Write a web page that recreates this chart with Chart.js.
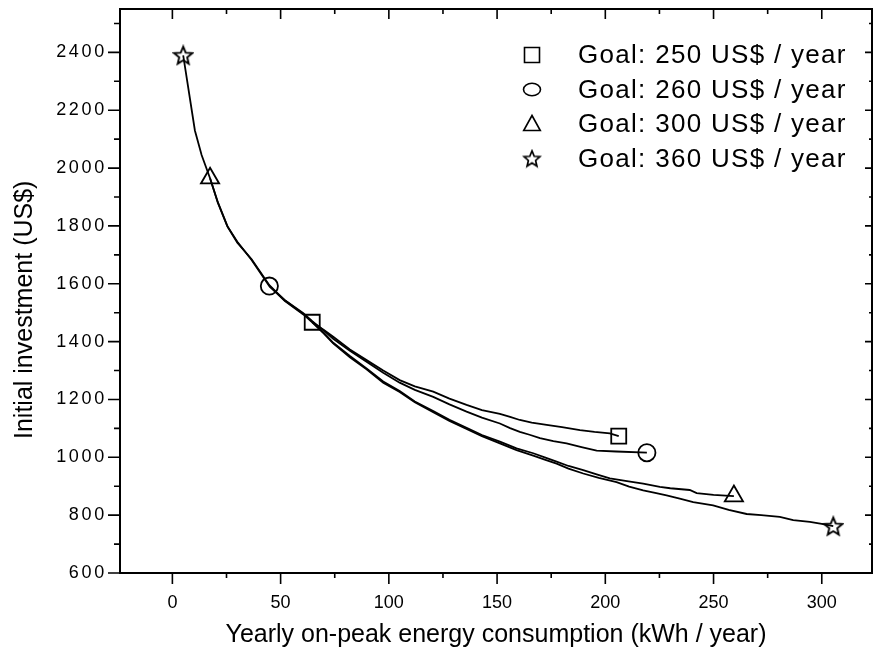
<!DOCTYPE html>
<html>
<head>
<meta charset="utf-8">
<script src="https://cdn.jsdelivr.net/npm/chart.js@4.4.0/dist/chart.umd.min.js"></script>
<style>
html,body{margin:0;padding:0;background:#fff;}
#wrap{width:874px;height:655px;position:relative;}
</style>
</head>
<body>
<div id="wrap"><canvas id="c"></canvas></div>
<script>
// ---------------- data ----------------
const seriesLabels = ['Goal: 250 US$ / year', 'Goal: 260 US$ / year', 'Goal: 300 US$ / year', 'Goal: 360 US$ / year'];
const xTitle = 'Yearly on-peak energy consumption (kWh / year)';
const yTitle = 'Initial investment (US$)';

const xRange = [-24.2, 323.2];
const yRange = [600, 2550];
const xTicks = [0, 50, 100, 150, 200, 250, 300];
const xMinorTicks = [0, 25, 50, 75, 100, 125, 150, 175, 200, 225, 250, 275, 300];
const yTicks = [600, 800, 1000, 1200, 1400, 1600, 1800, 2000, 2200, 2400];
const yMinorTicks = [600, 700, 800, 900, 1000, 1100, 1200, 1300, 1400, 1500, 1600, 1700, 1800, 1900, 2000, 2100, 2200, 2300, 2400, 2500];

const goal250X = [64.6, 70, 74.3, 82, 89.7, 97.4, 105, 112, 120.5, 128, 135.9, 143, 151.3, 156, 160.5, 166, 172.9, 180, 188.3, 195, 202.1, 206.2];
const goal250Y = [1467, 1440, 1417, 1373, 1336, 1300, 1267, 1245, 1227, 1203, 1181, 1163, 1150, 1140, 1129, 1120, 1112, 1104, 1094, 1088, 1083, 1073];

const goal260X = [44.8, 52, 60.5, 64.6, 70, 74.3, 82, 89.7, 97.4, 105, 112, 120.5, 128, 135.9, 143, 151.3, 156, 160.5, 165, 169.8, 176, 182.1, 189, 196, 205, 219.2];
const goal260Y = [1592, 1543, 1498, 1471, 1438, 1410, 1368, 1330, 1292, 1258, 1233, 1209, 1183, 1158, 1137, 1117, 1101, 1088, 1078, 1066, 1056, 1048, 1035, 1023, 1020, 1016];

const goal300X = [17.4, 21, 25.6, 30, 36.6, 44.8, 52, 60.5, 64.6, 70, 74.3, 82, 89.7, 97.4, 105, 112, 120.5, 128, 135.9, 143, 151.3, 159, 166.7, 172, 177.5, 183, 189.8, 196, 202.1, 210, 217.5, 225.2, 230, 239, 242.2, 250, 259.4];
const goal300Y = [1965, 1882, 1796, 1742, 1685, 1595, 1542, 1496, 1469, 1430, 1396, 1350, 1307, 1262, 1229, 1193, 1160, 1130, 1102, 1077, 1054, 1031, 1014, 1000, 985, 970, 956, 941, 927, 918, 909, 898, 893, 887, 876, 870, 866];

const goal360X = [5, 10.4, 13.5, 17.4, 21, 25.3, 30, 36.6, 44.8, 52, 60.5, 64.6, 70, 74.3, 82, 89.7, 97.4, 105, 112, 120.5, 128, 135.9, 143, 151.3, 159, 166.7, 172, 177.5, 183, 189.8, 197, 205.2, 211, 217.5, 223, 228.3, 234.4, 240.6, 249.8, 257, 265.3, 272, 280.6, 286.8, 294.5, 300, 305.3];
const goal360Y = [2390, 2130, 2045, 1965, 1880, 1800, 1745, 1682, 1592, 1540, 1494, 1467, 1428, 1394, 1346, 1304, 1258, 1226, 1190, 1156, 1126, 1098, 1073, 1048, 1025, 1006, 992, 978, 961, 944, 929, 914, 899, 886, 877, 868, 857, 845, 834, 818, 804, 800, 794, 783, 777, 770, 762];

// ---------------- styling ----------------
const FONT = "'Liberation Sans', Arial, Helvetica, sans-serif";

function makeStar(size, lw) {
  const c = document.createElement('canvas');
  c.width = c.height = size;
  const g = c.getContext('2d');
  const cx = size / 2, cy = size / 2 + 0.8;
  const R = size / 2 - 1.6, r = R * 0.45;
  g.beginPath();
  for (let i = 0; i < 10; i++) {
    const a = -Math.PI / 2 + i * Math.PI / 5;
    const rad = i % 2 ? r : R;
    g.lineTo(cx + rad * Math.cos(a), cy + rad * Math.sin(a));
  }
  g.closePath();
  g.lineJoin = 'miter';
  g.lineWidth = lw;
  g.strokeStyle = '#000';
  g.stroke();
  return c;
}
const starImg = makeStar(22, 1.9);
const starImgLegend = makeStar(20, 1.7);

const markerStyles = ['rect', 'circle', 'triangle', starImg];
const markerRadii = [10.6, 8.6, 10.5, 10];

function zip(xs, ys) { return xs.map((x, i) => ({x: x, y: ys[i]})); }
const seriesData = [zip(goal250X, goal250Y), zip(goal260X, goal260Y), zip(goal300X, goal300Y), zip(goal360X, goal360Y)];

const datasets = seriesData.map((d, k) => ({
  label: seriesLabels[k],
  data: d,
  showLine: true,
  tension: 0,
  borderColor: '#000',
  borderWidth: 1.8,
  backgroundColor: 'rgba(0,0,0,0)',
  pointStyle: markerStyles[k],
  pointBorderColor: '#000',
  pointBackgroundColor: 'rgba(0,0,0,0)',
  pointBorderWidth: 1.8,
  pointRadius: (ctx) => (ctx.dataIndex === 0 || ctx.dataIndex === d.length - 1) ? markerRadii[k] : 0,
  pointHoverRadius: 0
}));

function fixBox(size, isX) {
  return (s) => {
    if (isX) s.height = size; else s.width = size;
    s.paddingTop = 0; s.paddingBottom = 0; s.paddingLeft = 0; s.paddingRight = 0;
  };
}

// frame, tick marks, y title and legend
const framePlugin = {
  id: 'frame',
  beforeDraw(chart) {
    const ys = chart.scales.y;
    if (ys && !ys._spacedLabels) {
      const orig = ys.drawLabels;
      ys.drawLabels = function (area) {
        const c = this.ctx;
        const prev = c.letterSpacing;
        c.letterSpacing = '2.7px';
        orig.call(this, area);
        c.letterSpacing = prev || '0px';
      };
      ys._spacedLabels = true;
    }
  },
  afterDraw(chart) {
    const {ctx, chartArea: a, scales: {x, y}} = chart;
    ctx.save();
    ctx.strokeStyle = '#000';
    ctx.lineWidth = 2;
    ctx.strokeRect(a.left, a.top, a.right - a.left, a.bottom - a.top);

    ctx.lineWidth = 1.6;
    ctx.beginPath();
    for (const v of xMinorTicks) {
      const px = x.getPixelForValue(v);
      const major = xTicks.includes(v);
      ctx.moveTo(px, a.bottom); ctx.lineTo(px, a.bottom + (major ? 11 : 5));
      ctx.moveTo(px, a.top); ctx.lineTo(px, a.top + (major ? 10 : 5));
    }
    for (const v of yMinorTicks) {
      const py = y.getPixelForValue(v);
      const major = yTicks.includes(v);
      ctx.moveTo(a.left, py); ctx.lineTo(a.left - (major ? 12 : 6), py);
      ctx.moveTo(a.right, py); ctx.lineTo(a.right - (major ? 7 : 3), py);
    }
    ctx.stroke();

    // y axis title
    ctx.save();
    ctx.fillStyle = '#000';
    ctx.font = '25px ' + FONT;
    ctx.translate(32, y.getPixelForValue(1510));
    ctx.rotate(-Math.PI / 2);
    ctx.textAlign = 'center';
    ctx.textBaseline = 'alphabetic';
    ctx.fillText(yTitle, 0, 0);
    ctx.restore();

    // legend (inside plot, top right)
    const rowY0 = 55, rowStep = 34.5, symX = 532, textX = 578;
    ctx.fillStyle = '#000';
    ctx.font = '26px ' + FONT;
    ctx.textAlign = 'left';
    ctx.textBaseline = 'middle';
    ctx.letterSpacing = '1.3px';
    chart.data.datasets.forEach((ds, i) => {
      const cy = rowY0 + i * rowStep;
      ctx.lineWidth = 1.6;
      ctx.strokeStyle = '#000';
      ctx.beginPath();
      if (i === 0) {
        ctx.rect(symX - 7.5, cy - 7.5, 15, 15);
        ctx.stroke();
      } else if (i === 1) {
        ctx.ellipse(symX, cy, 8.5, 6.2, 0, 0, Math.PI * 2);
        ctx.stroke();
      } else if (i === 2) {
        ctx.moveTo(symX, cy - 8.5);
        ctx.lineTo(symX + 8.3, cy + 6.5);
        ctx.lineTo(symX - 8.3, cy + 6.5);
        ctx.closePath();
        ctx.stroke();
      } else {
        ctx.drawImage(starImgLegend, symX - 10, cy - 10);
      }
      ctx.fillText(ds.label, textX, cy + 1);
    });
    ctx.letterSpacing = '0px';
    ctx.restore();
  }
};

new Chart(document.getElementById('c'), {
  type: 'scatter',
  data: {datasets: datasets},
  options: {
    responsive: true,
    maintainAspectRatio: false,
    animation: false,
    layout: {padding: {top: 9, right: 2, left: 0, bottom: 0}, autoPadding: false},
    plugins: {legend: {display: false}, tooltip: {enabled: false}},
    scales: {
      x: {
        type: 'linear', position: 'bottom',
        min: xRange[0], max: xRange[1],
        afterBuildTicks: (s) => { s.ticks = xTicks.map(v => ({value: v})); },
        afterFit: fixBox(82, true),
        grid: {display: false, drawTicks: false},
        border: {display: false},
        ticks: {color: '#000', font: {family: FONT, size: 18}, padding: 19, maxRotation: 0, autoSkip: false,
                callback: (v) => String(v)},
        title: {display: true, text: xTitle, color: '#000', font: {family: FONT, size: 25}, padding: {top: 0, bottom: 5}}
      },
      y: {
        type: 'linear', position: 'left',
        min: yRange[0], max: yRange[1],
        afterBuildTicks: (s) => { s.ticks = yTicks.map(v => ({value: v})); },
        afterFit: fixBox(120, false),
        grid: {display: false, drawTicks: false},
        border: {display: false},
        ticks: {color: '#000', font: {family: FONT, size: 18}, padding: 13, autoSkip: false,
                callback: (v) => String(v)},
        title: {display: false}
      }
    }
  },
  plugins: [framePlugin]
});
</script>
</body>
</html>
